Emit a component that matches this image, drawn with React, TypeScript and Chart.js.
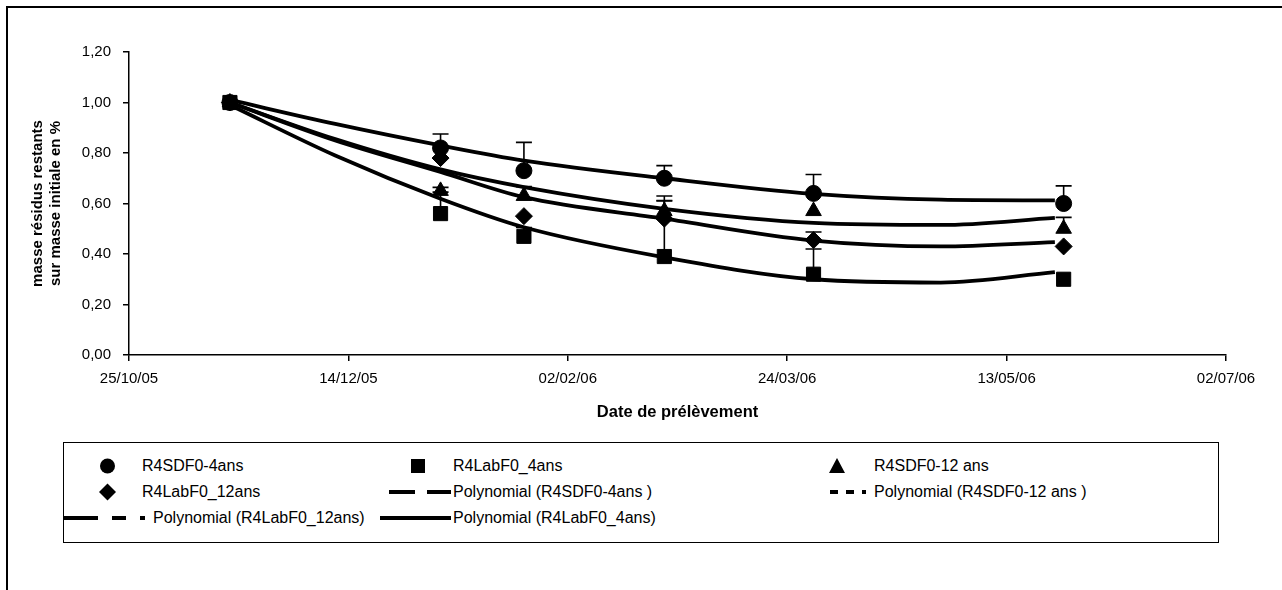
import React, { useEffect, useRef } from 'react';
import { Chart, registerables } from 'chart.js';

Chart.register(...registerables);

// ---------- data ----------
const ORIGIN = '2005-10-25';
const xTickLabels = ['25/10/05', '14/12/05', '02/02/06', '24/03/06', '13/05/06', '02/07/06'];
const yTickLabels = ['0,00', '0,20', '0,40', '0,60', '0,80', '1,00', '1,20'];

const sampleDates = ['2005-11-17', '2006-01-04', '2006-01-23', '2006-02-24', '2006-03-30', '2006-05-26'];

// values and (plus-direction) error bars
const sdf4Values = [1.0, 0.82, 0.73, 0.70, 0.64, 0.60];
const sdf4Errors = [0, 0.055, 0.112, 0.05, 0.075, 0.07];
const lab4Values = [1.0, 0.56, 0.47, 0.39, 0.32, 0.30];
const lab4Errors = [0, 0.085, 0.035, 0.22, 0.1, 0];
const sdf12Values = [1.0, 0.65, 0.63, 0.57, 0.57, 0.50];
const sdf12Errors = [0, 0.014, 0.037, 0.06, 0, 0.045];
const lab12Values = [1.0, 0.78, 0.55, 0.54, 0.455, 0.43];
const lab12Errors = [0, 0, 0, 0.072, 0.032, 0];

// polynomial trend lines
const trendDates = ['2005-11-17', '2005-12-11', '2006-01-04', '2006-01-23', '2006-02-24', '2006-03-30', '2006-04-28', '2006-05-24'];
const sdf4Trend = [1.01, 0.915, 0.83, 0.77, 0.70, 0.638, 0.615, 0.612];
const sdf12Trend = [1.0, 0.855, 0.735, 0.665, 0.579, 0.523, 0.515, 0.543];
const lab12Trend = [1.0, 0.85, 0.725, 0.625, 0.54, 0.453, 0.43, 0.447];
const lab4Trend = [0.99, 0.79, 0.619, 0.506, 0.387, 0.30, 0.287, 0.328];

// ---------- helpers ----------
const DAY_MS = 86400000;
const dayOf = (s: string) => (Date.parse(s + 'T00:00:00Z') - Date.parse(ORIGIN + 'T00:00:00Z')) / DAY_MS;
const pts = (dates: string[], vals: number[]) => dates.map((d, i) => ({ x: dayOf(d), y: vals[i] }));

const FONT = '"Liberation Sans", Arial, Helvetica, sans-serif';

const errorBarPlugin = {
  id: 'errorBars',
  beforeDatasetsDraw(chart: any) {
    const { ctx } = chart;
    const xs = chart.scales.x;
    const ys = chart.scales.y;
    ctx.save();
    ctx.strokeStyle = '#000';
    ctx.lineWidth = 1.6;
    chart.data.datasets.forEach((ds: any) => {
      const errs: number[] | undefined = ds.errors;
      if (!errs) return;
      ds.data.forEach((p: any, j: number) => {
        const e = errs[j];
        if (!e) return;
        const px = xs.getPixelForValue(p.x);
        const py = ys.getPixelForValue(p.y);
        const top = ys.getPixelForValue(p.y + e);
        ctx.beginPath();
        ctx.moveTo(px, py);
        ctx.lineTo(px, top);
        ctx.moveTo(px - 8, top);
        ctx.lineTo(px + 8, top);
        ctx.stroke();
      });
    });
    ctx.restore();
  },
};

function markerDs(label: string, vals: number[], errs: number[], style: string, radius: number) {
  return {
    label,
    data: pts(sampleDates, vals),
    errors: errs,
    showLine: false,
    pointStyle: style,
    pointRadius: radius,
    pointBackgroundColor: '#000',
    pointBorderColor: '#000',
    pointBorderWidth: 1,
    borderColor: '#000',
    backgroundColor: '#000',
  };
}

function trendDs(label: string, vals: number[]) {
  return {
    label,
    data: pts(trendDates, vals),
    pointRadius: 0,
    borderColor: '#000',
    borderWidth: 3.8,
    cubicInterpolationMode: 'monotone',
    fill: false,
  };
}

function ChartCanvas() {
  const ref = useRef<HTMLCanvasElement | null>(null);
  useEffect(() => {
    if (!ref.current) return;
    const chart = new Chart(ref.current, {
      type: 'line',
      data: {
        datasets: [
          markerDs('R4SDF0-4ans', sdf4Values, sdf4Errors, 'circle', 8),
          markerDs('R4LabF0_4ans', lab4Values, lab4Errors, 'rect', 10),
          markerDs('R4SDF0-12 ans', sdf12Values, sdf12Errors, 'triangle', 9),
          markerDs('R4LabF0_12ans', lab12Values, lab12Errors, 'rectRot', 8.5),
          trendDs('Polynomial (R4SDF0-4ans )', sdf4Trend),
          trendDs('Polynomial (R4SDF0-12 ans )', sdf12Trend),
          trendDs('Polynomial (R4LabF0_12ans)', lab12Trend),
          trendDs('Polynomial (R4LabF0_4ans)', lab4Trend),
        ] as any,
      },
      options: {
        animation: false,
        responsive: true,
        maintainAspectRatio: false,
        layout: { padding: { top: 52, right: 56, left: 0, bottom: 0 } },
        plugins: { legend: { display: false }, tooltip: { enabled: false } },
        scales: {
          x: {
            type: 'linear',
            min: 0,
            max: 250,
            afterFit: (s: any) => { s.height = 77; },
            border: { display: true, color: '#000', width: 1.5 },
            grid: { drawOnChartArea: false, drawTicks: true, tickLength: 6, color: '#000', lineWidth: 1.5 },
            ticks: {
              stepSize: 50,
              padding: 9,
              color: '#000',
              font: { family: FONT, size: 15 },
              maxRotation: 0,
              callback: (v: any) => xTickLabels[Math.round(Number(v) / 50)] ?? '',
            },
            title: {
              display: true,
              text: 'Date de prélèvement',
              color: '#000',
              font: { family: FONT, size: 16.5, weight: 'bold' },
              padding: { top: 0, bottom: 10 },
            },
          },
          y: {
            type: 'linear',
            min: 0,
            max: 1.2,
            afterFit: (s: any) => { s.width = 129; },
            border: { display: true, color: '#000', width: 1.5 },
            grid: { drawOnChartArea: false, drawTicks: true, tickLength: 6, color: '#000', lineWidth: 1.5 },
            ticks: {
              stepSize: 0.2,
              padding: 12,
              color: '#000',
              font: { family: FONT, size: 15 },
              callback: (v: any) => yTickLabels[Math.round(Number(v) / 0.2)] ?? '',
            },
            title: {
              display: true,
              text: ['masse résidus restants', 'sur masse initiale en %'],
              color: '#000',
              font: { family: FONT, size: 15, weight: 'bold' },
              padding: { top: 29, bottom: 0 },
            },
          },
        },
      } as any,
      plugins: [errorBarPlugin],
    });
    return () => chart.destroy();
  }, []);
  return (
    <div style={{ position: 'absolute', left: 0, top: 0, width: 1282, height: 432 }}>
      <canvas ref={ref} />
    </div>
  );
}

// ---------- legend ----------
const LW = 4;
function Key({ kind, w }: { kind: string; w: number }) {
  const h = 20;
  const c = h / 2;
  let body: any = null;
  if (kind === 'circle') body = <circle cx={w / 2} cy={c} r={7.5} fill="#000" />;
  else if (kind === 'square') body = <rect x={w / 2 - 7} y={c - 7} width={14} height={14} fill="#000" />;
  else if (kind === 'triangle') body = <polygon points={`${w / 2},${c - 8} ${w / 2 + 8},${c + 7} ${w / 2 - 8},${c + 7}`} fill="#000" />;
  else if (kind === 'diamond') body = <polygon points={`${w / 2},${c - 8.5} ${w / 2 + 8.5},${c} ${w / 2},${c + 8.5} ${w / 2 - 8.5},${c}`} fill="#000" />;
  else if (kind === 'longdash') body = <line x1={0} y1={c} x2={w} y2={c} stroke="#000" strokeWidth={LW} strokeDasharray="26 12" />;
  else if (kind === 'shortdash') body = <line x1={0} y1={c} x2={w} y2={c} stroke="#000" strokeWidth={LW} strokeDasharray="8 8" />;
  else if (kind === 'dashdot') body = <line x1={0} y1={c} x2={w} y2={c} stroke="#000" strokeWidth={LW} strokeDasharray="34 14 14 14 5 20" />;
  else if (kind === 'solid') body = <line x1={0} y1={c} x2={w} y2={c} stroke="#000" strokeWidth={LW} />;
  return <svg width={w} height={h} style={{ display: 'block' }}>{body}</svg>;
}

const legendItems: { kind: string; keyX: number; keyW: number; textX: number; row: number; text: string }[] = [
  { kind: 'circle', keyX: 65, keyW: 85, textX: 142, row: 0, text: 'R4SDF0-4ans' },
  { kind: 'square', keyX: 385, keyW: 66, textX: 453, row: 0, text: 'R4LabF0_4ans' },
  { kind: 'triangle', keyX: 802, keyW: 70, textX: 874, row: 0, text: 'R4SDF0-12 ans' },
  { kind: 'diamond', keyX: 65, keyW: 85, textX: 142, row: 1, text: 'R4LabF0_12ans' },
  { kind: 'longdash', keyX: 389, keyW: 62, textX: 453, row: 1, text: 'Polynomial (R4SDF0-4ans )' },
  { kind: 'shortdash', keyX: 830, keyW: 36, textX: 874, row: 1, text: 'Polynomial (R4SDF0-12 ans )' },
  { kind: 'dashdot', keyX: 64, keyW: 86, textX: 153, row: 2, text: 'Polynomial (R4LabF0_12ans)' },
  { kind: 'solid', keyX: 380, keyW: 71, textX: 453, row: 2, text: 'Polynomial (R4LabF0_4ans)' },
];

function Legend() {
  const rowY = [466, 492, 518];
  return (
    <>
      <div style={{ position: 'absolute', left: 63, top: 442, width: 1156, height: 101, border: '1px solid #000', boxSizing: 'border-box' }} />
      {legendItems.map((it, i) => (
        <React.Fragment key={i}>
          <div style={{ position: 'absolute', left: it.keyX, top: rowY[it.row] - 10 }}>
            <Key kind={it.kind} w={it.keyW} />
          </div>
          <div style={{ position: 'absolute', left: it.textX, top: rowY[it.row] - 11, height: 22, lineHeight: '22px', fontSize: 16, fontFamily: FONT, color: '#000', whiteSpace: 'pre' }}>
            {it.text}
          </div>
        </React.Fragment>
      ))}
    </>
  );
}

export default function App() {
  useEffect(() => {
    document.body.style.margin = '0';
  }, []);
  return (
    <div style={{ position: 'relative', width: 1282, height: 590, overflow: 'hidden', background: '#fff', fontFamily: FONT }}>
      <div style={{ position: 'absolute', left: 6, top: 6, width: 1400, height: 800, borderTop: '2px solid #000', borderLeft: '2px solid #000' }} />
      <ChartCanvas />
      <Legend />
    </div>
  );
}
